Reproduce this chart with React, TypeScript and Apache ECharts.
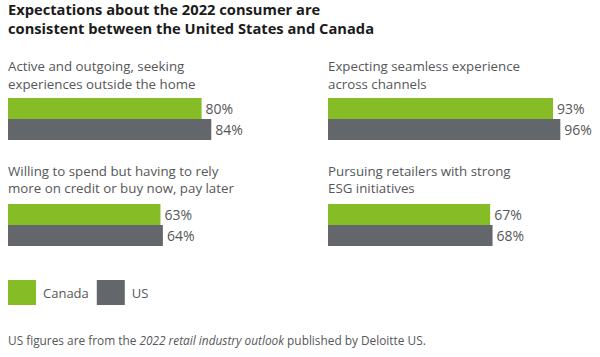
import React, { useEffect, useRef } from "react";
import * as echarts from "echarts";

const titleLines = [
  "Expectations about the 2022 consumer are",
  "consistent between the United States and Canada",
];
const categories = [
  "Active and outgoing, seeking\nexperiences outside the home",
  "Expecting seamless experience\nacross channels",
  "Willing to spend but having to rely\nmore on credit or buy now, pay later",
  "Pursuing retailers with strong\nESG initiatives",
];
const seriesNames = ["Canada", "US"];
const canadaValues = [80, 93, 63, 67];
const usValues = [84, 96, 64, 68];
const footnoteParts = ["US figures are from the ", "2022 retail industry outlook", " published by Deloitte US."];

const GREEN = "#86BC25";
const GRAY = "#63666A";
const TEXT = "#555759";
const FONT = "'Open Sans', 'Noto Sans', sans-serif";

export default function App() {
  const ref = useRef<HTMLDivElement>(null);
  useEffect(() => {
    if (!ref.current) return;
    const chart = echarts.init(ref.current, undefined, { renderer: "svg" });
    const panels = [
      { left: 8, top: 98, labelY: 75 },
      { left: 328, top: 98, labelY: 75 },
      { left: 8, top: 204, labelY: 179.5 },
      { left: 328, top: 204, labelY: 179.5 },
    ];
    const grids = panels.map((p) => ({ left: p.left, top: p.top, width: 242, height: 42 }));
    const xAxes = panels.map((_, i) => ({ type: "value", gridIndex: i, min: 0, max: 100, show: false }));
    const yAxes = panels.map((_, i) => ({
      type: "category",
      gridIndex: i,
      data: [categories[i]],
      inverse: true,
      show: false,
    }));
    const series: any[] = [];
    panels.forEach((_, i) => {
      [canadaValues, usValues].forEach((vals, s) => {
        series.push({
          type: "bar",
          name: seriesNames[s],
          xAxisIndex: i,
          yAxisIndex: i,
          data: [vals[i]],
          barWidth: 21,
          barGap: "0%",
          itemStyle: { color: s === 0 ? GREEN : GRAY },
          label: {
            show: true,
            position: "right",
            distance: 4,
            formatter: "{c}%",
            fontFamily: FONT,
            fontSize: 14,
            color: TEXT,
          },
        });
      });
    });
    const graphics: any[] = [
      {
        type: "text",
        x: 8,
        y: 18.5,
        style: {
          text: titleLines.join("\n"),
          font: `bold 14.7px ${FONT}`,
          fill: "#1b1b1b",
          verticalAlign: "middle",
          lineHeight: 19,
        },
      },
      ...panels.map((p, i) => ({
        type: "text",
        x: p.left,
        y: p.labelY,
        style: {
          text: categories[i],
          font: `13.3px ${FONT}`,
          fill: TEXT,
          verticalAlign: "middle",
          lineHeight: 17.5,
        },
      })),
      {
        type: "text",
        x: 8,
        y: 340,
        style: {
          text: `{n|${footnoteParts[0]}}{i|${footnoteParts[1]}}{n|${footnoteParts[2]}}`,
          verticalAlign: "middle",
          rich: {
            n: { fontFamily: FONT, fontSize: 11.85, fill: TEXT, color: TEXT },
            i: { fontFamily: FONT, fontSize: 11.85, fontStyle: "italic", fill: TEXT, color: TEXT },
          },
        },
      },
    ];
    chart.setOption({
      animation: false,
      grid: grids,
      xAxis: xAxes,
      yAxis: yAxes,
      series,
      legend: {
        data: seriesNames,
        left: 8,
        top: 280,
        icon: "rect",
        itemWidth: 28,
        itemHeight: 25,
        itemGap: 8,
        selectedMode: false,
        textStyle: { fontFamily: FONT, fontSize: 13, color: TEXT, padding: [0, 0, 0, 2] },
        padding: 0,
      },
      graphic: graphics,
    });
    return () => chart.dispose();
  }, []);
  return (
    <div
      ref={ref}
      style={{ position: "fixed", left: 0, top: 0, width: 600, height: 357, background: "#fff" }}
    />
  );
}
